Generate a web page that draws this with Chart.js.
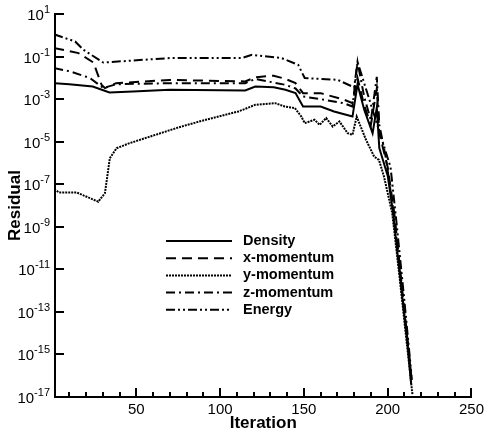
<!DOCTYPE html>
<html>
<head>
<meta charset="utf-8">
<script src="https://cdn.jsdelivr.net/npm/chart.js@4.4.1/dist/chart.umd.min.js"></script>
<style>
  html, body { margin: 0; padding: 0; background: #fff; }
  #wrap { width: 488px; height: 437px; }
</style>
</head>
<body>
<div id="wrap"><canvas id="mycanvas" width="488" height="437"></canvas></div>
<script>
// residual history (iteration, residual)
var densityIter = [1, 10, 24, 34, 48, 70, 115, 121, 132, 139, 145, 149.5, 160, 168, 179, 182, 186, 191, 193.5, 195, 200, 203, 208, 212, 214];
var densityRes  = [5.62e-3, 5.01e-3, 3.89e-3, 2.04e-3, 2.29e-3, 2.75e-3, 2.57e-3, 3.89e-3, 3.63e-3, 2.75e-3, 1.91e-3, 4.47e-4, 4.47e-4, 2.63e-4, 1.51e-4, 5.0e-3, 3.16e-4, 2.51e-5, 3.98e-4, 5.01e-6, 2.51e-7, 6.31e-9, 1.58e-12, 2.51e-15, 3.98e-17];

var xmomIter = [1, 15.5, 24.4, 29.3, 31.3, 38, 70, 115, 121, 132, 139, 145, 149.5, 160, 174, 179, 182, 186, 190, 193.5, 195, 200, 204, 209, 213, 214.5];
var xmomRes  = [0.251, 0.145, 0.0525, 4.68e-3, 3.31e-3, 5.62e-3, 7.94e-3, 6.76e-3, 1.07e-2, 1.26e-2, 8.91e-3, 5.62e-3, 1.91e-3, 1.91e-3, 9.33e-4, 6.46e-4, 1.0e-2, 5.01e-4, 6.31e-5, 3.16e-3, 2.51e-5, 6.31e-7, 3.98e-9, 6.31e-13, 6.31e-16, 5.01e-17];

var ymomIter = [1, 4, 14.5, 27.3, 31.3, 34.2, 38.2, 46, 75.6, 91.4, 111, 121, 132.8, 138.7, 144.6, 148.5, 150.5, 156.4, 159.4, 163.3, 167.2, 171.2, 176.1, 179, 181.5, 187, 191.9, 194.8, 197.8, 202.7, 207, 211, 214.8];
var ymomRes  = [5.75e-8, 4.07e-8, 4.07e-8, 1.51e-8, 3.80e-8, 1.66e-6, 4.90e-6, 8.51e-6, 4.79e-5, 1.07e-4, 2.63e-4, 5.37e-4, 6.46e-4, 4.47e-4, 3.80e-4, 1.51e-4, 7.41e-5, 1.07e-4, 6.17e-5, 1.29e-4, 5.13e-5, 8.91e-5, 2.51e-5, 2.09e-5, 1.51e-4, 1.26e-5, 2.0e-6, 1.38e-6, 2.29e-7, 4.37e-9, 5.01e-12, 6.31e-15, 1.26e-17];

var zmomIter = [1, 10.6, 22.4, 30.3, 38, 70, 115, 121, 139, 145, 149.5, 160, 174, 179, 182, 186, 190, 193.5, 195, 199, 204, 209, 213.5, 214.5];
var zmomRes  = [2.88e-2, 2.0e-2, 9.77e-3, 3.31e-3, 5.01e-3, 5.62e-3, 5.62e-3, 8.91e-3, 4.68e-3, 3.16e-3, 1.32e-3, 1.0e-3, 6.31e-4, 4.47e-4, 5.62e-2, 1.26e-3, 1.0e-4, 1.12e-2, 6.31e-5, 1.58e-6, 2.51e-9, 3.98e-13, 2.51e-16, 6.31e-17];

var energyIter = [1, 13.5, 18.4, 30.3, 70, 113, 119, 136.7, 146.6, 150.5, 170, 180, 182, 185, 190, 196, 201.7, 205, 210, 214];
var energyRes  = [1.1, 0.513, 0.209, 5.25e-2, 8.51e-2, 8.51e-2, 0.12, 8.51e-2, 4.07e-2, 9.77e-3, 8.13e-3, 3.55e-3, 5.62e-2, 1.0e-2, 5.5e-4, 1.74e-5, 6.31e-7, 2.51e-9, 3.16e-13, 1.58e-16];

var labels = ["Density", "x-momentum", "y-momentum", "z-momentum", "Energy"];
var xTicks = [10, 20, 30, 40, 50, 60, 70, 80, 90, 100, 110, 120, 130, 140, 150, 160, 170, 180, 190, 200, 210, 220, 230, 240, 250];
var yTicks = [1e1, 1e-1, 1e-3, 1e-5, 1e-7, 1e-9, 1e-11, 1e-13, 1e-15, 1e-17];

function pts(xs, ys) {
	var out = [];
	for (var i in xs) {
		out.push({x: xs[i], y: ys[i]});
	}
	return out;
}

var dashes = [[], [10, 6], [2, 1], [9, 4, 2, 4], [9, 3, 2, 3, 2, 3]];
var series = [
	pts(densityIter, densityRes),
	pts(xmomIter, xmomRes),
	pts(ymomIter, ymomRes),
	pts(zmomIter, zmomRes),
	pts(energyIter, energyRes)
];

var datasets = [];
for (var k = 0; k < series.length; k++) {
	datasets.push({
		label: labels[k],
		data: series[k],
		borderColor: "#000",
		backgroundColor: "#000",
		borderWidth: 2,
		borderDash: dashes[k],
		pointRadius: 0,
		fill: false,
		tension: 0
	});
}

// inward tick marks, y labels as 10^n and the legend box in the middle
var decor = {
	id: "decor",
	afterDraw: function(chart) {
		var c = chart.ctx, xs = chart.scales.x, ys = chart.scales.y, a = chart.chartArea;
		c.save();
		c.strokeStyle = "#000";
		c.fillStyle = "#000";
		c.lineWidth = 2;
		xTicks.forEach(function(v) {
			var px = Math.round(xs.getPixelForValue(v));
			var len = v % 50 === 0 ? 9 : 5;
			c.beginPath();
			c.moveTo(px, a.bottom);
			c.lineTo(px, a.bottom - len);
			c.stroke();
		});
		yTicks.forEach(function(v) {
			var py = Math.round(ys.getPixelForValue(v));
			c.beginPath();
			c.moveTo(a.left, py);
			c.lineTo(a.left + 9, py);
			c.stroke();
			var ex = String(Math.round(Math.log10(v)));
			c.textAlign = "right";
			c.textBaseline = "alphabetic";
			c.font = "11px 'Liberation Sans', Arial, sans-serif";
			var ew = c.measureText(ex).width;
			c.fillText(ex, 50, py - 1);
			c.font = "15px 'Liberation Sans', Arial, sans-serif";
			c.textBaseline = "middle";
			c.fillText("10", 50 - ew, py + 2);
		});
		// legend
		c.font = "bold 14.5px 'Liberation Sans', Arial, sans-serif";
		c.textAlign = "left";
		c.textBaseline = "middle";
		chart.data.datasets.forEach(function(ds, i) {
			var ly = 241 + i * 17.2;
			c.setLineDash(ds.borderDash);
			c.beginPath();
			c.moveTo(166, ly);
			c.lineTo(232, ly);
			c.stroke();
			c.setLineDash([]);
			c.fillText(ds.label, 243, ly);
		});
		c.restore();
	}
};

var ctx = document.getElementById("mycanvas");

var LineGraph = new Chart(ctx, {
	type: "line",
	data: { datasets: datasets },
	options: {
		responsive: false,
		animation: false,
		events: [],
		layout: { padding: { top: 14, right: 13, left: 0, bottom: 0 } },
		plugins: { legend: { display: false }, tooltip: { enabled: false } },
		scales: {
			x: {
				type: "linear",
				min: 1.5,
				max: 250,
				afterBuildTicks: function(s) { s.ticks = xTicks.map(function(v) { return {value: v}; }); },
				afterFit: function(s) { s.height = 40; },
				grid: { display: false, drawTicks: false },
				border: { display: true, color: "#000", width: 2 },
				ticks: {
					autoSkip: false,
					maxRotation: 0,
					padding: 4,
					color: "#000",
					font: { size: 15, family: "'Liberation Sans', Arial, sans-serif" },
					callback: function(v) { return v % 50 === 0 ? String(v) : ""; }
				},
				title: {
					display: true,
					text: "Iteration",
					color: "#000",
					font: { size: 17, weight: "bold", family: "'Liberation Sans', Arial, sans-serif" },
					padding: { top: 0, bottom: 3 }
				}
			},
			y: {
				type: "logarithmic",
				min: 1e-17,
				max: 10,
				afterBuildTicks: function(s) { s.ticks = yTicks.map(function(v) { return {value: v}; }); },
				afterFit: function(s) { s.width = 55; },
				grid: { display: false, drawTicks: false },
				border: { display: true, color: "#000", width: 2 },
				ticks: { display: false },
				title: {
					display: true,
					text: "Residual",
					color: "#000",
					font: { size: 17, weight: "bold", family: "'Liberation Sans', Arial, sans-serif" },
					padding: { top: 5, bottom: 0 }
				}
			}
		}
	},
	plugins: [decor]
});
</script>
</body>
</html>
